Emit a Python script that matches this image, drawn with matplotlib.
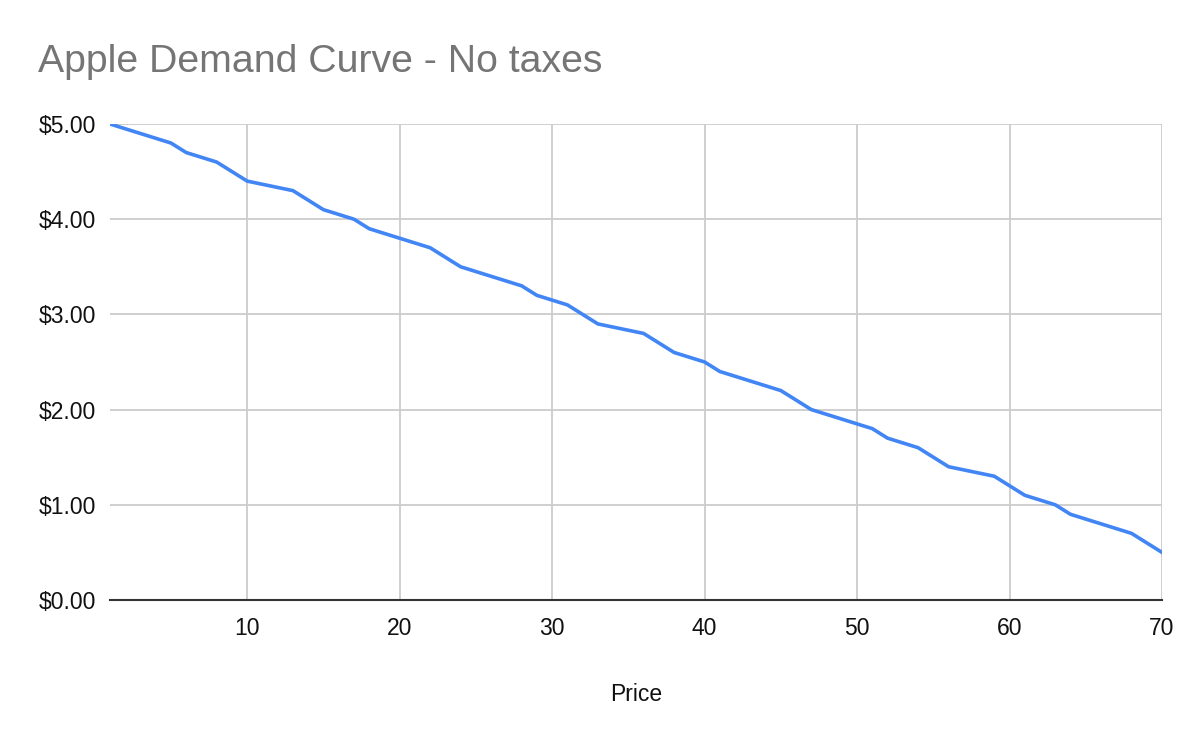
import matplotlib.pyplot as plt
from matplotlib.ticker import FuncFormatter

# vertices
price = [1, 5, 6, 8, 10, 13, 15, 17, 18, 20, 22, 24, 28, 29, 31, 33,
         36, 38, 40, 41, 45, 47, 51, 52, 54, 56, 59, 61, 63, 64, 68, 70]
demand = [5.0, 4.8, 4.7, 4.6, 4.4, 4.3, 4.1, 4.0, 3.9, 3.8, 3.7, 3.5, 3.3, 3.2, 3.1, 2.9,
          2.8, 2.6, 2.5, 2.4, 2.2, 2.0, 1.8, 1.7, 1.6, 1.4, 1.3, 1.1, 1.0, 0.9, 0.7, 0.5]

x_ticks = [10, 20, 30, 40, 50, 60, 70]
y_ticks = [0, 1, 2, 3, 4, 5]

plt.rcParams["font.family"] = ["Liberation Sans", "DejaVu Sans"]

fig = plt.figure(figsize=(12, 7.42), dpi=100)
ax = fig.add_axes([110 / 1200, 1 - 600 / 742, 1052 / 1200, 476 / 742])

ax.plot(price, demand, color="#4285F4", linewidth=2.6, solid_joinstyle="round", zorder=3)

ax.set_xlim(1, 70)
ax.set_ylim(0, 5)
ax.set_xticks(x_ticks)
ax.set_yticks(y_ticks)
ax.yaxis.set_major_formatter(FuncFormatter(lambda v, _: f"${v:.2f}"))

ax.grid(True, color="#cccccc", linewidth=1.3)
ax.set_axisbelow(True)
for side in ["left", "right", "top"]:
    ax.spines[side].set_visible(False)
ax.spines["bottom"].set_color("#333333")
ax.spines["bottom"].set_linewidth(1.5)
ax.spines["bottom"].set_zorder(4)

ax.tick_params(axis="both", length=0, labelsize=16.5, colors="#111111")
ax.tick_params(axis="x", pad=12)
ax.tick_params(axis="y", pad=10)

ax.set_xlabel("Price", fontsize=16.5, color="#111111", labelpad=31)

fig.text(38 / 1200, 1 - 62 / 742, "Apple Demand Curve - No taxes",
         fontsize=28.3, color="#757575", ha="left", va="center")

fig.savefig("out.png", dpi=100, facecolor="white")
